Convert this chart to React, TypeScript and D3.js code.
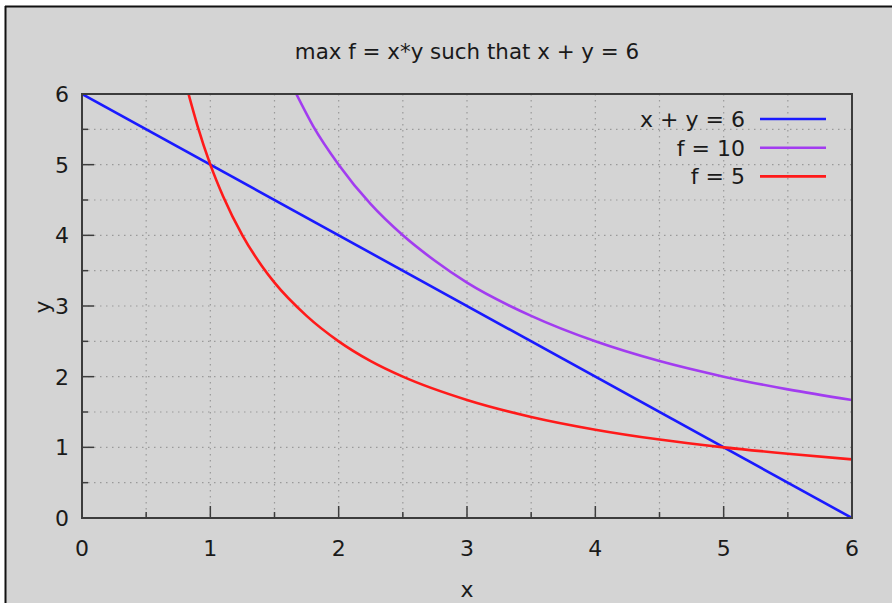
import React from "react";
import * as d3 from "d3";

const title = "max f = x*y such that x + y = 6";
const xTicks = [0, 1, 2, 3, 4, 5, 6];
const yTicks = [0, 1, 2, 3, 4, 5, 6];
const gridSteps = [0.5, 1, 1.5, 2, 2.5, 3, 3.5, 4, 4.5, 5, 5.5];

// x + y = 6
const lineX = [0, 6];
const lineY = [6, 0];
// f = 10
const f10X = [1.67, 1.8, 2, 2.25, 2.5, 2.75, 3, 3.5, 4, 4.5, 5, 5.5, 6];
const f10Y = [6, 5.55, 5, 4.44, 4, 3.64, 3.33, 2.86, 2.5, 2.22, 2, 1.82, 1.67];
// f = 5
const f5X = [0.83, 0.9, 1, 1.1, 1.25, 1.4, 1.5, 1.75, 2, 2.25, 2.5, 3, 3.5, 4, 4.5, 5, 5.5, 6];
const f5Y = [6, 5.55, 5, 4.55, 4, 3.57, 3.33, 2.86, 2.5, 2.22, 2, 1.67, 1.43, 1.25, 1.11, 1, 0.91, 0.83];

const seriesNames = ["x + y = 6", "f = 10", "f = 5"];
const seriesColors = ["#1a1aff", "#a23cf0", "#ff1a1a"];

const W = 892;
const H = 603;
const M = { left: 82, right: 852, top: 94, bottom: 518 };
const FONT = "'DejaVu Sans', sans-serif";

export default function App() {
  const x = d3.scaleLinear().domain([0, 6]).range([M.left, M.right]);
  const y = d3.scaleLinear().domain([0, 6]).range([M.bottom, M.top]);
  const line = d3
    .line<[number, number]>()
    .x((d) => x(d[0]))
    .y((d) => y(d[1]))
    .curve(d3.curveMonotoneX);
  const series = [
    lineX.map((v, i) => [v, lineY[i]] as [number, number]),
    f10X.map((v, i) => [v, f10Y[i]] as [number, number]),
    f5X.map((v, i) => [v, f5Y[i]] as [number, number]),
  ];
  const axisColor = "#3c3c3c";
  const minor = [0.5, 1.5, 2.5, 3.5, 4.5, 5.5];
  return (
    <svg
      width={W}
      height={H}
      style={{ position: "absolute", left: 0, top: 0, display: "block" }}
      fontFamily={FONT}
    >
      <rect x={0} y={0} width={W} height={H} fill="#ffffff" />
      <rect x={5} y={6} width={W - 5} height={H - 6} fill="#d4d4d4" />
      <line x1={5} y1={6.5} x2={W} y2={6.5} stroke="#111" strokeWidth={2} />
      <line x1={5.5} y1={6} x2={5.5} y2={H} stroke="#111" strokeWidth={2} />

      <defs>
        <clipPath id="plot">
          <rect x={M.left} y={M.top} width={M.right - M.left} height={M.bottom - M.top} />
        </clipPath>
      </defs>

      {/* grid */}
      <g stroke="#9a9a9a" strokeWidth={1.2} strokeDasharray="1.5,4.5">
        {gridSteps.map((g) => (
          <line key={"gx" + g} x1={x(g)} x2={x(g)} y1={M.top} y2={M.bottom} />
        ))}
        {gridSteps.map((g) => (
          <line key={"gy" + g} x1={M.left} x2={M.right} y1={y(g)} y2={y(g)} />
        ))}
      </g>

      {/* ticks */}
      <g stroke={axisColor} strokeWidth={1.5}>
        {xTicks.map((t) => (
          <line key={"tx" + t} x1={x(t)} x2={x(t)} y1={M.bottom} y2={M.bottom - 12} />
        ))}
        {minor.map((t) => (
          <line key={"mx" + t} x1={x(t)} x2={x(t)} y1={M.bottom} y2={M.bottom - 6} />
        ))}
        {yTicks.map((t) => (
          <line key={"ty" + t} x1={M.left} x2={M.left + 12} y1={y(t)} y2={y(t)} />
        ))}
        {minor.map((t) => (
          <line key={"my" + t} x1={M.left} x2={M.left + 6} y1={y(t)} y2={y(t)} />
        ))}
      </g>

      {/* series */}
      <g clipPath="url(#plot)" fill="none" strokeWidth={2.6} strokeLinejoin="round">
        {series.map((s, i) => (
          <path key={i} d={line(s) || ""} stroke={seriesColors[i]} />
        ))}
      </g>

      {/* frame */}
      <rect
        x={M.left}
        y={M.top}
        width={M.right - M.left}
        height={M.bottom - M.top}
        fill="none"
        stroke={axisColor}
        strokeWidth={2}
      />

      {/* tick labels */}
      <g fontSize={22} fill="#1a1a1a">
        {xTicks.map((t) => (
          <text key={"lx" + t} x={x(t)} y={556} textAnchor="middle">
            {t}
          </text>
        ))}
        {yTicks.map((t) => (
          <text key={"ly" + t} x={69} y={y(t) + 8} textAnchor="end">
            {t}
          </text>
        ))}
      </g>

      {/* axis labels */}
      <text x={(M.left + M.right) / 2} y={597} fontSize={22} textAnchor="middle" fill="#1a1a1a">
        x
      </text>
      <text transform="translate(50,307) rotate(-90)" fontSize={22} textAnchor="middle" fill="#1a1a1a">
        y
      </text>

      {/* title */}
      <text x={(M.left + M.right) / 2} y={59} fontSize={21.4} textAnchor="middle" fill="#1a1a1a">
        {title}
      </text>

      {/* legend */}
      {seriesNames.map((n, i) => {
        const ly = 119 + i * 28.7;
        return (
          <g key={n}>
            <text x={745} y={ly + 8} fontSize={22} textAnchor="end" fill="#1a1a1a">
              {n}
            </text>
            <line x1={760} x2={826} y1={ly} y2={ly} stroke={seriesColors[i]} strokeWidth={2.6} />
          </g>
        );
      })}
    </svg>
  );
}
